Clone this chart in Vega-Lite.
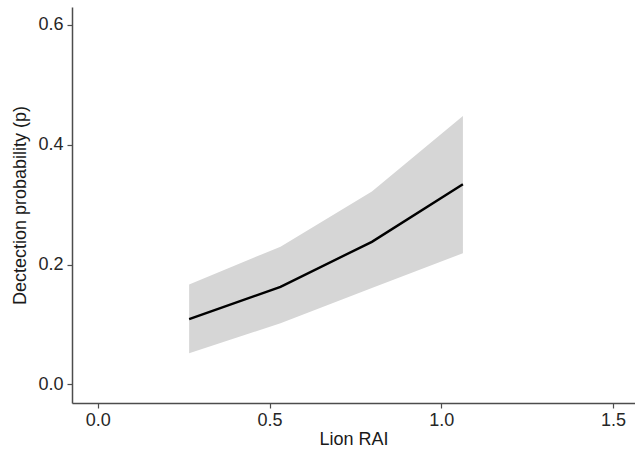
{
  "$schema": "https://vega.github.io/schema/vega-lite/v6.json",
  "width": 563,
  "height": 396,
  "autosize": "none",
  "padding": {"left": 72, "top": 7, "right": 0, "bottom": 48},
  "background": "white",
  "config": {
    "view": {"stroke": null},
    "font": "Liberation Sans",
    "axis": {
      "grid": false,
      "domainColor": "#4d4d4d",
      "domainWidth": 1.5,
      "tickColor": "#4d4d4d",
      "tickWidth": 1.2,
      "tickSize": 5,
      "labelColor": "#262626",
      "labelFontSize": 18,
      "labelFont": "Liberation Sans",
      "titleFont": "Liberation Sans",
      "titleFontSize": 18,
      "titleFontWeight": "normal",
      "titleColor": "#1a1a1a",
      "labelPadding": 3
    }
  },
  "data": {
    "values": [
      {"rai": 0.266, "p": 0.109, "lo": 0.052, "hi": 0.167},
      {"rai": 0.532, "p": 0.163, "lo": 0.102, "hi": 0.230},
      {"rai": 0.798, "p": 0.238, "lo": 0.161, "hi": 0.322},
      {"rai": 1.063, "p": 0.334, "lo": 0.219, "hi": 0.448}
    ]
  },
  "encoding": {
    "x": {
      "field": "rai",
      "type": "quantitative",
      "scale": {"domain": [-0.075, 1.564], "nice": false, "zero": false},
      "axis": {"values": [0, 0.5, 1, 1.5], "format": ".1f", "title": "Lion RAI", "titlePadding": 1}
    }
  },
  "layer": [
    {
      "mark": {"type": "area", "color": "#d6d6d6", "opacity": 1},
      "encoding": {
        "y": {
          "field": "lo",
          "type": "quantitative",
          "scale": {"domain": [-0.031, 0.63], "nice": false, "zero": false},
          "axis": {"values": [0, 0.2, 0.4, 0.6], "format": ".1f", "title": "Dectection probability (p)", "titlePadding": 8, "labelPadding": 4}
        },
        "y2": {"field": "hi"}
      }
    },
    {
      "mark": {"type": "line", "color": "black", "strokeWidth": 2.4},
      "encoding": {
        "y": {"field": "p", "type": "quantitative"}
      }
    }
  ]
}
